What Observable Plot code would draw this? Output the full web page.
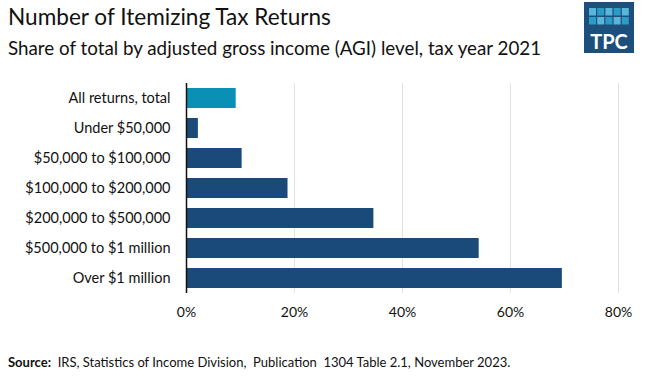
<!DOCTYPE html>
<html>
<head>
<meta charset="utf-8">
<script src="https://cdn.jsdelivr.net/npm/d3@7"></script>
<script src="https://cdn.jsdelivr.net/npm/@observablehq/plot@0.6"></script>
<style>
  html, body { margin: 0; padding: 0; background: #fff; }
  body { width: 646px; height: 376px; overflow: hidden; font-family: Lato, "Open Sans", sans-serif; }
  #wrap { position: relative; width: 646px; height: 376px; }
  #title { position: absolute; left: 8px; top: 3px; font-size: 22.6px; color: #111; white-space: nowrap; }
  #subtitle { position: absolute; left: 8px; top: 36px; font-size: 18.8px; color: #111; white-space: nowrap; }
  #chart { position: absolute; left: 0; top: 70px; }
  #caption { position: absolute; left: 8px; top: 354px; font-size: 13px; color: #111; white-space: pre; }
  #logo { position: absolute; left: 584px; top: 2px; }
</style>
</head>
<body>
<div id="wrap">
  <div id="title">Number of Itemizing Tax Returns</div>
  <div id="subtitle">Share of total by adjusted gross income (AGI) level, tax year 2021</div>
  <svg id="logo" width="50" height="51" viewBox="0 0 50 51">
    <rect x="0" y="0" width="50" height="51" fill="#1d4f7c"/>
    <g id="sq"></g>
    <text x="25" y="47" text-anchor="middle" fill="#fff" font-family="Lato, sans-serif" font-weight="bold" font-size="20">TPC</text>
  </svg>
  <div id="chart"></div>
  <div id="caption"><b>Source:</b>  IRS, Statistics of Income Division,  Publication  1304 Table 2.1, November 2023.</div>
</div>
<script>
const categories = [
  "All returns, total",
  "Under $50,000",
  "$50,000 to $100,000",
  "$100,000 to $200,000",
  "$200,000 to $500,000",
  "$500,000 to $1 million",
  "Over $1 million"
];
const shares = [0.092, 0.022, 0.103, 0.188, 0.347, 0.542, 0.696];
const xTicks = [0, 0.2, 0.4, 0.6, 0.8];

const data = categories.map((c, i) => ({category: c, share: shares[i], total: i === 0}));

// logo squares
const sq = document.getElementById("sq");
for (let r = 0; r < 2; r++) {
  for (let c = 0; c < 5; c++) {
    const el = document.createElementNS("http://www.w3.org/2000/svg", "rect");
    el.setAttribute("x", 5 + c * 8.2);
    el.setAttribute("y", 6 + r * 9);
    el.setAttribute("width", 7);
    el.setAttribute("height", 7.5);
    el.setAttribute("fill", (c + r) % 2 === 0 ? "#5bb5da" : "#2a9cc6");
    sq.appendChild(el);
  }
}

const plot = Plot.plot({
  width: 646,
  height: 260,
  marginLeft: 186,
  marginRight: 28,
  marginTop: 13,
  marginBottom: 37,
  style: {fontFamily: "Lato, sans-serif", fontSize: "14.5px", color: "#111", background: "#fff"},
  x: {domain: [0, 0.8], ticks: xTicks, tickFormat: d3.format(".0%"), label: null},
  y: {domain: categories, paddingInner: 1/3, paddingOuter: 1/6, label: null},
  color: {domain: [true, false], range: ["#0a8fb5", "#194a7a"]},
  marks: [
    Plot.gridX(xTicks, {stroke: "#e3e3e3", strokeOpacity: 1, strokeWidth: 1}),
    Plot.barX(data, {x: "share", y: "category", fill: "total"}),
    Plot.ruleX([0], {stroke: "#111", strokeWidth: 1.5}),
    Plot.axisX(xTicks, {tickSize: 0, tickPadding: 14, tickFormat: d3.format(".0%"), fontSize: 14, label: null}),
    Plot.axisY({tickSize: 0, tickPadding: 16, fontSize: 14.5, label: null})
  ]
});
document.getElementById("chart").appendChild(plot);
</script>
</body>
</html>
